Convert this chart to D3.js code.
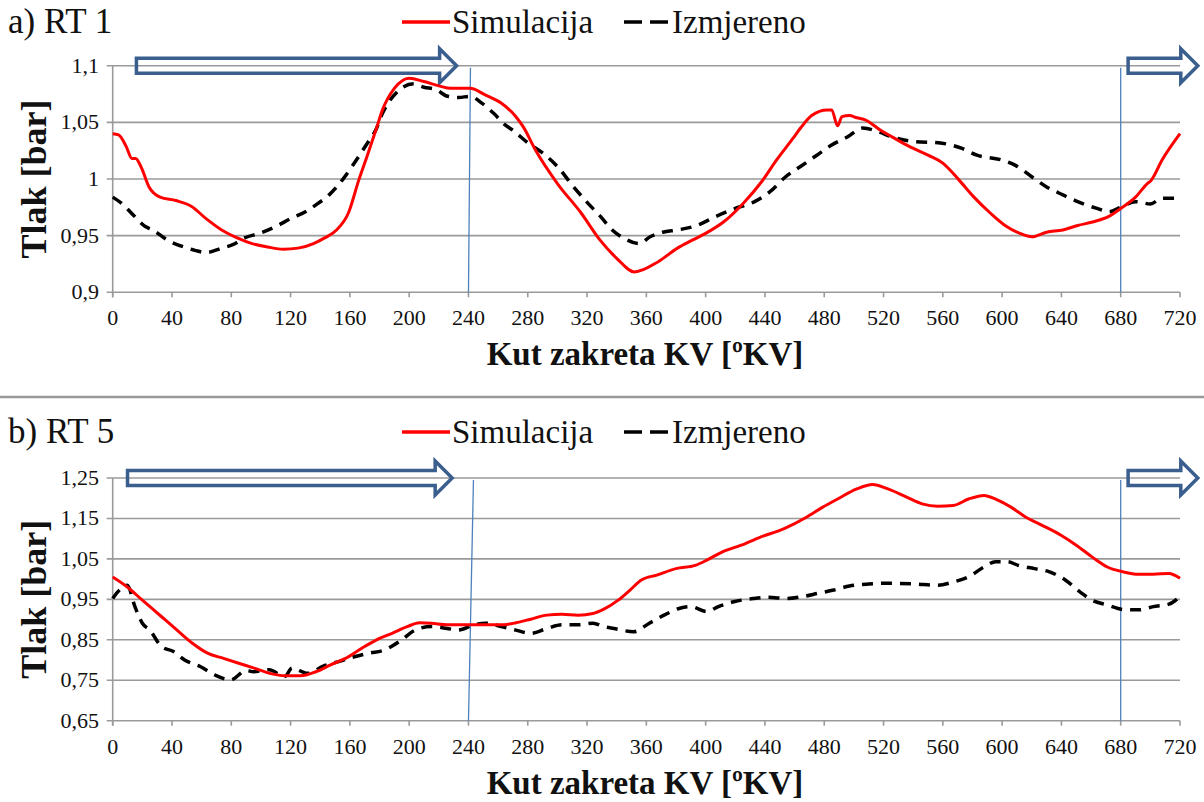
<!DOCTYPE html>
<html><head><meta charset="utf-8">
<script src="https://cdn.jsdelivr.net/npm/d3@7"></script>
<style>
html,body{margin:0;padding:0;background:#fff;}
svg{display:block;}
</style></head>
<body>
<svg id="c" width="1204" height="802"></svg>
<script>
// ---------------- data ----------------
const xTicks = [0,40,80,120,160,200,240,280,320,360,400,440,480,520,560,600,640,680,720];
const yTicksRT1 = [0.9,0.95,1,1.05,1.1];
const yTicksRT5 = [0.65,0.75,0.85,0.95,1.05,1.15,1.25];
const seriesNames = ["Simulacija","Izmjereno"];
const panelTitles = ["a) RT 1","b) RT 5"];
const xTitle = "Kut zakreta KV [ºKV]";
const yTitle = "Tlak [bar]";
const markerAngles = [240,680];

const rt1SimX = [0,4,9,13,15.5,19,24.5,32,42.6,53,63,73.5,84,94,104.5,115,125,135.5,143,151,159,166,171.6,178,182,190,200,210,220.6,228,241,251.6,262,272,277,285,300,316,328.8,340,352,368,381,391,400,412,425,438,448,459,464,471.5,482,485,489,492,497,502,508,518,526,537,550,560,571,581,592,602,612,620,630,641,651,661,672,680,690,698,700,708,720];
const rt1SimY = [1.040,1.039,1.029,1.018,1.018,1.011,0.993,0.984,0.981,0.976,0.965,0.955,0.948,0.943,0.940,0.938,0.939,0.943,0.948,0.955,0.970,0.999,1.020,1.045,1.061,1.080,1.089,1.086,1.082,1.080,1.080,1.074,1.067,1.055,1.046,1.026,0.996,0.970,0.946,0.930,0.918,0.927,0.939,0.946,0.952,0.962,0.978,0.998,1.017,1.036,1.045,1.056,1.061,1.061,1.047,1.055,1.056,1.054,1.052,1.043,1.037,1.029,1.021,1.014,0.999,0.984,0.970,0.959,0.952,0.949,0.953,0.955,0.959,0.962,0.967,0.974,0.984,0.996,0.998,1.017,1.040];

const rt1MeasX = [0,6.5,14,22,27,37,48,55.5,63,73.5,81,89,99,110,120,130,138,146,156,166,174,177,182,192,203,210,218,226,233.5,241,249,257,264.5,270,280,290,300,311,321,329,337,344.5,355,362.6,371,381,394,407,420,433,443.6,454,464,475,485,495.6,506,516,526,541.6,557,573,583,599,609,620,630,641,651,664,672,680,690,700,708,720];
const rt1MeasY = [0.984,0.978,0.968,0.958,0.955,0.946,0.940,0.937,0.935,0.939,0.942,0.948,0.952,0.958,0.965,0.971,0.978,0.986,1.001,1.020,1.036,1.042,1.058,1.077,1.084,1.081,1.079,1.073,1.072,1.073,1.067,1.058,1.048,1.043,1.032,1.023,1.011,0.993,0.978,0.967,0.955,0.948,0.943,0.949,0.953,0.955,0.959,0.967,0.974,0.980,0.989,1.002,1.011,1.021,1.030,1.037,1.045,1.042,1.037,1.033,1.032,1.027,1.021,1.017,1.012,1.002,0.993,0.986,0.980,0.974,0.971,0.975,0.980,0.978,0.983,0.983];

const rt5SimX = [0,9.6,20,33,43.4,54,64,74.8,85,95.4,106,116,126.5,137,147,157,168,178,188.5,199,207,215,225.6,236,251.6,262,272,282,293,303,314,324,331,341,349,356.6,367,380,393,400.8,411,424,437,453,468,479,489,502,512.5,523,536,546,556.6,567,577.4,587.8,595.6,606,616,627,640,650,660.6,671,681.6,692,702,712.5,720];
const rt5SimY = [1.005,0.981,0.948,0.907,0.874,0.841,0.817,0.804,0.792,0.780,0.767,0.761,0.761,0.771,0.788,0.804,0.829,0.850,0.866,0.883,0.892,0.891,0.887,0.887,0.887,0.887,0.892,0.901,0.911,0.913,0.911,0.915,0.925,0.948,0.973,0.998,1.010,1.026,1.034,1.047,1.067,1.084,1.104,1.125,1.153,1.178,1.198,1.223,1.234,1.223,1.202,1.186,1.180,1.182,1.198,1.207,1.198,1.178,1.153,1.133,1.108,1.084,1.055,1.030,1.018,1.012,1.012,1.014,1.002];

const rt5MeasX = [0,4.6,9.8,15,20,25,33,41,48.5,59,69,79.5,90,95,105.5,116,121,131.6,142,152.4,163,173,183.4,193.5,204,215,225.6,233,243.6,251.6,262,272,282,293,303,314,324,331,338,351.4,362,372,382.6,390,400.8,408.6,419,432,442,455,465.7,476,486.5,497,510,523,541,556.6,567,577.4,587.8,595.6,603.4,611,621.8,632,642.6,652.7,660.6,671,681.6,692,702,712.5,720];
const rt5MeasY = [0.952,0.973,0.985,0.932,0.891,0.874,0.833,0.821,0.800,0.784,0.763,0.751,0.774,0.771,0.776,0.759,0.780,0.767,0.785,0.796,0.808,0.817,0.825,0.846,0.874,0.883,0.878,0.874,0.887,0.891,0.883,0.874,0.866,0.878,0.887,0.887,0.891,0.883,0.878,0.870,0.891,0.911,0.928,0.932,0.920,0.932,0.944,0.952,0.955,0.952,0.957,0.965,0.973,0.983,0.988,0.990,0.988,0.985,0.993,1.006,1.030,1.043,1.043,1.034,1.026,1.018,0.998,0.968,0.948,0.936,0.925,0.924,0.932,0.938,0.957];

// arrows [startAngle, endAngle] drawn at top of each panel
const arrowsRT1 = [[16,232],[685,732]];
const arrowsRT5 = [[10,229],[685,732]];

// ---------------- drawing ----------------
const FONT = "Liberation Serif";
const svg = d3.select("#c");
const gridCol = "#9a9a9a";
const blueLine = "#4f81bd";
const arrowCol = "#3a5f8e";

const zip = (xs, ys) => xs.map((x,i)=>[x, ys[i]]);

function txt(g){ return g.append("text").attr("font-family", FONT).attr("fill","#111"); }

function panel(cfg){
  const x = d3.scaleLinear().domain([0,720]).range([112.7,1180]);
  const y = d3.scaleLinear().domain(cfg.yDomain).range([cfg.yBottom, cfg.yTop]);
  const g = svg.append("g");

  // gridlines
  g.append("g").selectAll("line").data(cfg.yTicks).join("line")
    .attr("x1", x(0)-6).attr("x2", x(720))
    .attr("y1", d=>y(d)).attr("y2", d=>y(d))
    .attr("stroke", gridCol).attr("stroke-width", 1.6);
  // y axis line
  g.append("line").attr("x1", x(0)).attr("x2", x(0))
    .attr("y1", y(cfg.yDomain[1])).attr("y2", y(cfg.yDomain[0])+5)
    .attr("stroke", gridCol).attr("stroke-width", 1.6);
  // x ticks
  g.append("g").selectAll("line").data(xTicks).join("line")
    .attr("x1", d=>x(d)).attr("x2", d=>x(d))
    .attr("y1", y(cfg.yDomain[0])).attr("y2", y(cfg.yDomain[0])+5)
    .attr("stroke", gridCol).attr("stroke-width", 1.6);
  // x tick labels
  g.append("g").selectAll("text").data(xTicks).join("text")
    .attr("font-family", FONT).attr("fill","#111")
    .attr("x", d=>x(d)).attr("y", y(cfg.yDomain[0])+33)
    .attr("text-anchor","middle").attr("font-size", 22)
    .text(d=>d);
  // y tick labels
  g.append("g").selectAll("text").data(cfg.yTicks).join("text")
    .attr("font-family", FONT).attr("fill","#111")
    .attr("x", 99).attr("y", d=>y(d)+7)
    .attr("text-anchor","end").attr("font-size", 22)
    .text(d=>String(d).replace(".", ","));

  // blue marker lines
  g.append("g").selectAll("line").data(markerAngles).join("line")
    .attr("x1", (d,i)=> i===0 ? x(d)+cfg.lean : x(d)).attr("x2", d=>x(d))
    .attr("y1", y(cfg.yDomain[1])+2).attr("y2", y(cfg.yDomain[0]))
    .attr("stroke", blueLine).attr("stroke-width", 1.3);

  // arrows
  const yc = y(cfg.yDomain[1]);
  cfg.arrows.forEach(([a,b])=>{
    const x0 = x(a), x1 = x(b), head = 17, bh = 7.5, hh = 17;
    const p = d3.path();
    p.moveTo(x0, yc-bh); p.lineTo(x1-head, yc-bh); p.lineTo(x1-head, yc-hh);
    p.lineTo(x1, yc); p.lineTo(x1-head, yc+hh); p.lineTo(x1-head, yc+bh);
    p.lineTo(x0, yc+bh); p.closePath();
    g.append("path").attr("d", p.toString()).attr("fill","none")
      .attr("stroke", arrowCol).attr("stroke-width", 3.5).attr("stroke-linejoin","miter");
  });

  // series
  const line = d3.line().x(d=>x(d[0])).y(d=>y(d[1])).curve(d3.curveMonotoneX);
  g.append("path").attr("d", line(cfg.meas)).attr("fill","none")
    .attr("stroke","#000").attr("stroke-width",3.5).attr("stroke-dasharray","11,8");
  g.append("path").attr("d", line(cfg.sim)).attr("fill","none")
    .attr("stroke","#ff0000").attr("stroke-width",3);

  // panel title
  txt(g).attr("x", 8).attr("y", cfg.top+33).attr("font-size", 35).text(cfg.title);
  // legend
  const ly = cfg.top+22;
  g.append("line").attr("x1",402).attr("x2",450).attr("y1",ly).attr("y2",ly).attr("stroke","#ff0000").attr("stroke-width",3.5);
  txt(g).attr("x",452).attr("y",ly+11).attr("font-size",33).text(seriesNames[0]);
  g.append("line").attr("x1",624).attr("x2",668).attr("y1",ly).attr("y2",ly).attr("stroke","#000").attr("stroke-width",3.5).attr("stroke-dasharray","18,8");
  txt(g).attr("x",672).attr("y",ly+11).attr("font-size",33).text(seriesNames[1]);

  // axis titles
  txt(g).attr("x", 645).attr("y", y(cfg.yDomain[0])+73)
    .attr("text-anchor","middle").attr("font-size",33).attr("font-weight","bold").text(xTitle);
  const ym = (y(cfg.yDomain[0])+y(cfg.yDomain[1]))/2;
  txt(g).attr("transform",`translate(46,${ym}) rotate(-90)`)
    .attr("text-anchor","middle").attr("font-size",36).attr("font-weight","bold").text(yTitle);
}

panel({top:0, yDomain:[0.9,1.1], yTop:65.7, yBottom:292.3, yTicks:yTicksRT1,
  sim: zip(rt1SimX, rt1SimY), meas: zip(rt1MeasX, rt1MeasY), arrows: arrowsRT1, title: panelTitles[0], lean: 2});
panel({top:410, yDomain:[0.65,1.25], yTop:478, yBottom:720.7, yTicks:yTicksRT5,
  sim: zip(rt5SimX, rt5SimY), meas: zip(rt5MeasX, rt5MeasY), arrows: arrowsRT5, title: panelTitles[1], lean: 5});

// separator
svg.append("line").attr("x1",0).attr("x2",1204).attr("y1",397).attr("y2",397).attr("stroke","#999").attr("stroke-width",2.5);
</script>
</body></html>
